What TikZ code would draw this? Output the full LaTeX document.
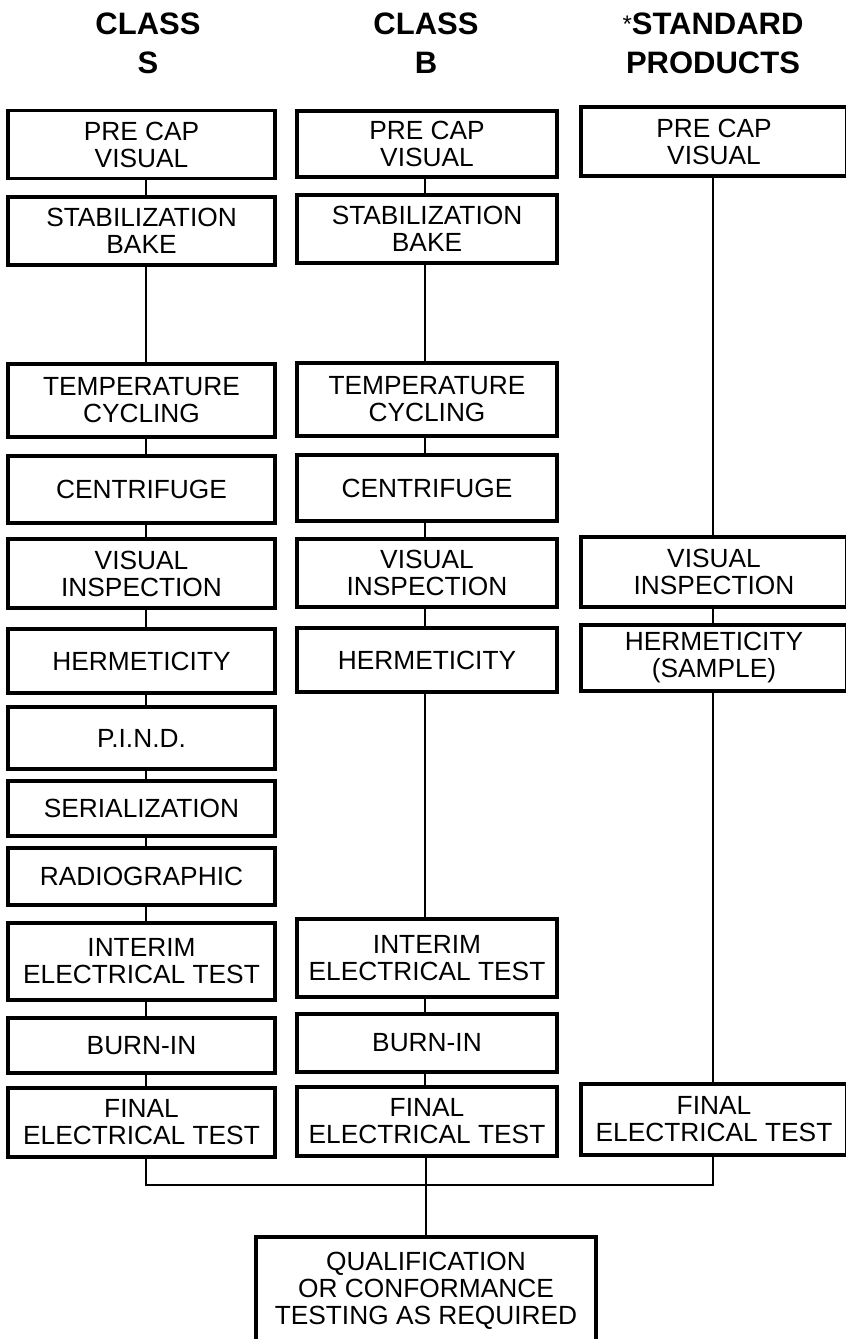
\documentclass[tikz,border=0pt]{standalone}
\usepackage{fontspec}
\setmainfont{Liberation Sans}
\begin{document}
\begin{tikzpicture}[x=1pt,y=-1pt,
  box/.style={draw=black, line width=3.6pt, inner sep=0pt, align=center,
    font=\fontsize{26.3}{27}\selectfont},
  hdr/.style={align=center, inner sep=0pt, font=\bfseries\fontsize{31}{39}\selectfont},
  wire/.style={line width=2.8pt}]
\useasboundingbox (0,0) rectangle (846,1339);
\clip (0,0) rectangle (846,1339);
\fill[white] (0,0) rectangle (846,1339);
% column line positions
\coordinate (xa) at (146,0);
\coordinate (xb) at (425,0);
\coordinate (xc) at (713,0);
% headers
\node[hdr] (h1) at (148,43) {CLASS\\S};
\node[hdr] (h2) at (426,43) {CLASS\\B};
\node[hdr] (h3) at (713,43) {\raisebox{2pt}{\mdseries\fontsize{24}{24}\selectfont*}STANDARD\\PRODUCTS};
% column 1 (class S)
\tikzset{c1/.style={box, minimum width=267pt}}
\node[c1, minimum height=68pt] (a1) at (141.5,144.5) {PRE CAP\\VISUAL};
\node[c1, minimum height=68pt] (a2) at (141.5,231) {STABILIZATION\\BAKE};
\node[c1, minimum height=73pt] (a3) at (141.5,400.5) {TEMPERATURE\\CYCLING};
\node[c1, minimum height=67pt] (a4) at (141.5,489.5) {CENTRIFUGE};
\node[c1, minimum height=69pt] (a5) at (141.5,573.5) {VISUAL\\INSPECTION};
\node[c1, minimum height=64pt] (a6) at (141.5,661) {HERMETICITY};
\node[c1, minimum height=62pt] (a7) at (141.5,738) {P.I.N.D.};
\node[c1, minimum height=55pt] (a8) at (141.5,808.5) {SERIALIZATION};
\node[c1, minimum height=57pt] (a9) at (141.5,876.5) {RADIOGRAPHIC};
\node[c1, minimum height=77pt] (a10) at (141.5,961.5) {INTERIM\\ELECTRICAL TEST};
\node[c1, minimum height=55pt] (a11) at (141.5,1045.5) {BURN-IN};
\node[c1, minimum height=69pt] (a12) at (141.5,1122.5) {FINAL\\ELECTRICAL TEST};
% column 2 (class B)
\tikzset{c2/.style={box, minimum width=260pt}}
\node[c2, minimum height=66pt] (b1) at (427,144) {PRE CAP\\VISUAL};
\node[c2, minimum height=68pt] (b2) at (427,229) {STABILIZATION\\BAKE};
\node[c2, minimum height=73pt] (b3) at (427,399.5) {TEMPERATURE\\CYCLING};
\node[c2, minimum height=66pt] (b4) at (427,488) {CENTRIFUGE};
\node[c2, minimum height=68pt] (b5) at (427,573) {VISUAL\\INSPECTION};
\node[c2, minimum height=64pt] (b6) at (427,660) {HERMETICITY};
\node[c2, minimum height=78pt] (b10) at (427,958) {INTERIM\\ELECTRICAL TEST};
\node[c2, minimum height=58pt] (b11) at (427,1043) {BURN-IN};
\node[c2, minimum height=69pt] (b12) at (427,1121.5) {FINAL\\ELECTRICAL TEST};
% column 3 (standard products)
\tikzset{c3/.style={box, minimum width=266pt}}
\node[c3, minimum height=69pt] (s1) at (714,141.5) {PRE CAP\\VISUAL};
\node[c3, minimum height=70pt] (s5) at (714,572) {VISUAL\\INSPECTION};
\node[c3, minimum height=66pt] (s6) at (714,658) {HERMETICITY\\(SAMPLE)};
\node[c3, minimum height=71pt] (s12) at (714,1119.5) {FINAL\\ELECTRICAL TEST};
% final box
\node[box, minimum width=340pt, minimum height=107pt] (q) at (426,1290.5)
  {QUALIFICATION\\OR CONFORMANCE\\TESTING AS REQUIRED};
% connectors column 1
\foreach \u/\v in {a1/a2,a2/a3,a3/a4,a4/a5,a5/a6,a6/a7,a7/a8,a8/a9,a9/a10,a10/a11,a11/a12}
  \draw[wire] (\u.south -| xa) -- (\v.north -| xa);
% connectors column 2
\foreach \u/\v in {b1/b2,b2/b3,b3/b4,b4/b5,b5/b6,b6/b10,b10/b11,b11/b12}
  \draw[wire] (\u.south -| xb) -- (\v.north -| xb);
% connectors column 3
\foreach \u/\v in {s1/s5,s5/s6,s6/s12}
  \draw[wire] (\u.south -| xc) -- (\v.north -| xc);
% bus
\coordinate (busL) at (146,1185);
\coordinate (busR) at (713,1185);
\coordinate (busM) at (426,1185);
\draw[wire, line join=miter] (a12.south -| busL) -- (busL) -- (busR) -- (s12.south -| busR);
\draw[wire] (b12.south -| busM) -- (q.north -| busM);
\end{tikzpicture}
\end{document}
